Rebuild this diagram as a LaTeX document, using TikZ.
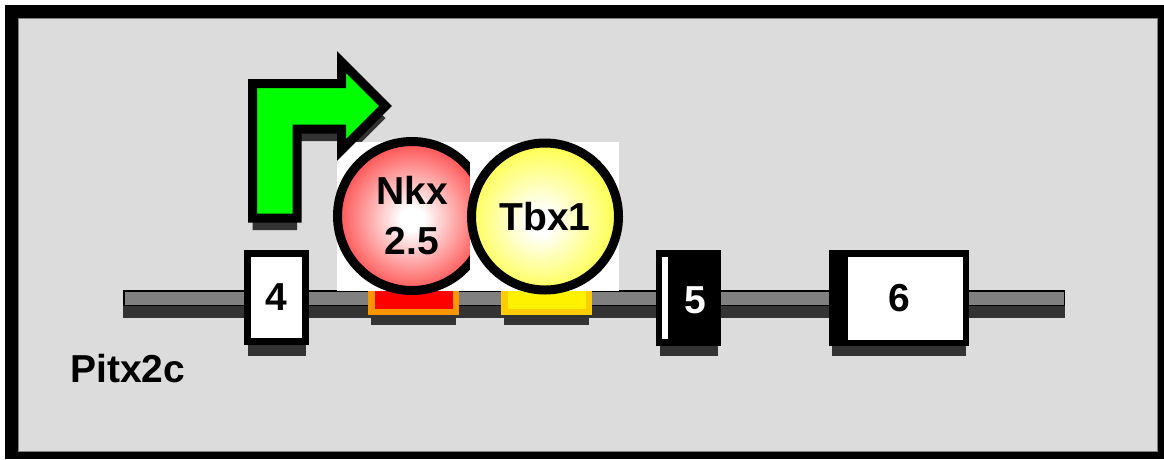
\documentclass[tikz,border=0pt]{standalone}
\usepackage{fontspec}
\setmainfont{Liberation Sans}
\definecolor{bggray}{RGB}{220,220,220}
\definecolor{bargray}{RGB}{128,128,128}
\definecolor{shadowgray}{RGB}{51,51,51}
\definecolor{arrowgreen}{RGB}{0,255,0}
\definecolor{siteorange}{RGB}{255,150,0}
\definecolor{siteyellow}{RGB}{255,204,0}
% white core fading out to the rim colour
\pgfdeclareradialshading{nkxball}{\pgfpoint{0bp}{-1bp}}{color(0bp)=(white); color(4bp)=(white); color(35bp)=(red); color(50bp)=(red)}
\pgfdeclareradialshading{tbxball}{\pgfpoint{-2bp}{-2bp}}{color(0bp)=(white); color(4bp)=(white); color(35bp)=(yellow); color(50bp)=(yellow)}
\begin{document}
\begin{tikzpicture}[x=1pt,y=-1pt,
  lbl/.style={font=\fontsize{39}{50}\selectfont\bfseries, inner sep=0pt},
  exonbox/.style={rectangle, draw=black, fill=white, line width=7pt, inner sep=0pt},
  tfcircle/.style={circle, draw=black, line width=9pt, inner sep=0pt, lbl, align=center},
  sitebox/.style={line width=6.5pt},
]
\useasboundingbox (0,0) rectangle (1164,459);

% frame and panel
\fill[white] (0,0) rectangle (1164,459);
\fill[black] (5,5) rectangle (1164,459);
\filldraw[fill=bggray, draw=bargray, line width=1pt] (18,18) rectangle (1157,451);

% gene backbone
\fill[shadowgray] (123,300) rectangle (1065,318);
\filldraw[fill=bargray, draw=black, line width=1.5pt] (123.75,290.75) rectangle (1064.25,305.25);

% binding sites
\fill[shadowgray] (371.25,300) rectangle (455.75,325);
\filldraw[sitebox, draw=siteorange, fill=red] (371.25,287) rectangle (455.75,311.75);
\fill[shadowgray] (504.25,300) rectangle (588.75,325);
\filldraw[sitebox, draw=siteyellow, fill=yellow] (504.25,287) rectangle (588.75,311.75);

% exon 4
\fill[shadowgray] (247.5,300) rectangle (305.5,356);
\node[exonbox, lbl, minimum width=58pt, minimum height=88pt] (ex4) at (276.5,297.5) {4};

% exon 5
\fill[shadowgray] (659.5,300) rectangle (717.5,356);
\node[rectangle, fill=black, inner sep=0pt, minimum width=65pt, minimum height=96pt] (ex5) at (688.5,298) {};
\fill[white] (662,257) rectangle (668,339);
\node[lbl, text=white] (ex5lbl) at (695,300) {5};

% exon 6
\fill[shadowgray] (832,300) rectangle (966,356);
\node[exonbox, line width=6.5pt, minimum width=133.5pt, minimum height=89.5pt] (ex6) at (899,298) {};
\fill[black] (829,250) rectangle (848,346);
\node[lbl] (ex6lbl) at (899,298) {6};

% promoter arrow shadow
\begin{scope}[shift={(0,12)}]
\fill[shadowgray] (252.5,218) -- (252.5,83.5) -- (341.5,83.5) -- (341.5,62) -- (385.5,106)
  -- (341.5,150) -- (341.5,129) -- (297,129) -- (297,218) -- cycle;
\end{scope}

% Nkx2.5
\fill[white] (337,142) rectangle (487,291);
\node[tfcircle, minimum size=149pt, shading=nkxball] (nkx) at (412,216) {Nkx\\2.5};

% promoter arrow
\filldraw[fill=arrowgreen, draw=black, line width=9pt, miter limit=10]
  (252.5,218) -- (252.5,83.5) -- (341.5,83.5) -- (341.5,62) -- (385.5,106)
  -- (341.5,150) -- (341.5,129) -- (297,129) -- (297,218) -- cycle;

% Tbx1
\fill[white] (470,142) rectangle (619,291);
\node[tfcircle, minimum size=147pt, shading=tbxball] (tbx) at (545,216.5) {Tbx1};

% gene name
\node[lbl, anchor=base west] (gene) at (70,382) {Pitx2c};
\end{tikzpicture}
\end{document}
